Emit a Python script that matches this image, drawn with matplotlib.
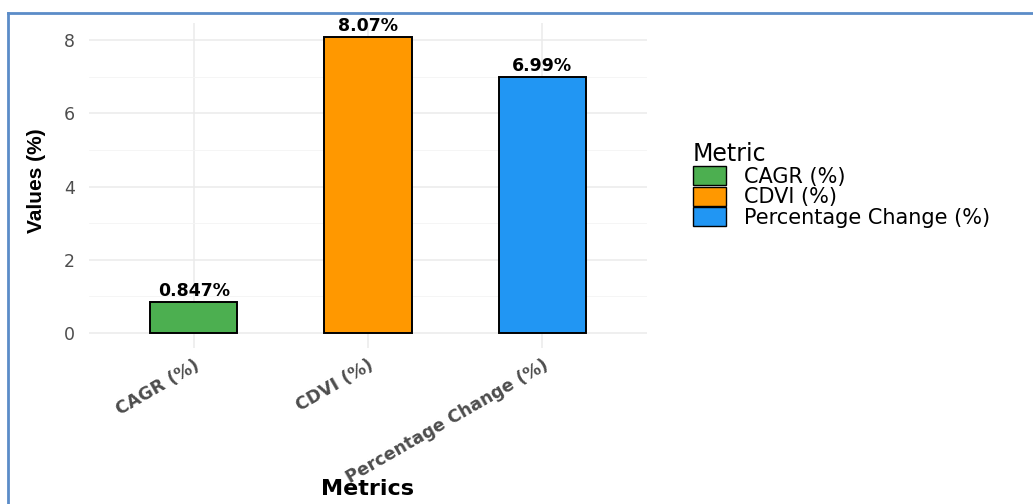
import matplotlib
matplotlib.use("Agg")
import matplotlib.pyplot as plt
import matplotlib.transforms as mtransforms
from matplotlib.lines import Line2D
from matplotlib.patches import Patch
import numpy as np

# data
metrics = ["CAGR (%)", "CDVI (%)", "Percentage Change (%)"]
values = [0.847, 8.07, 6.99]
value_labels = ["0.847%", "8.07%", "6.99%"]
colors = ["#4CAF50", "#FF9800", "#2196F3"]
y_ticks = [0, 2, 4, 6, 8]

plt.rcParams["font.family"] = ["DejaVu Sans"]

fig = plt.figure(figsize=(10.33, 5.04), dpi=100)
ax = fig.add_axes([0.0862, 0.310, 0.540, 0.645])

x = np.arange(1, len(metrics) + 1)
ax.bar(x, values, width=0.5, color=colors, edgecolor="black", linewidth=1.4, zorder=3)
for xi, v, lab in zip(x, values, value_labels):
    ax.annotate(lab, (xi, v), xytext=(0, 1.5), textcoords="offset points",
                ha="center", va="bottom", fontsize=12.5, fontweight="bold", color="black", zorder=4)

ax.set_xlim(0.4, 3.6)
ymax = max(values)
ax.set_ylim(-0.05 * ymax, ymax * 1.05)
ax.set_yticks(y_ticks)
ax.set_yticks([1, 3, 5, 7], minor=True)
ax.set_xticks(x)
ax.set_xticklabels(metrics, rotation=30, ha="right", va="top", rotation_mode="anchor",
                   fontsize=12.5, fontweight="bold", color="#4d4d4d")
shift = mtransforms.ScaledTranslation(15 / 100, 0, fig.dpi_scale_trans)
for t in ax.get_xticklabels():
    t.set_transform(t.get_transform() + shift)
ax.tick_params(axis="y", labelsize=12.5, labelcolor="#4d4d4d", length=0, pad=10)
ax.tick_params(axis="y", which="minor", length=0)
ax.tick_params(axis="x", length=0, pad=6)

ax.grid(True, which="major", color="#ebebeb", linewidth=1.1, zorder=0)
ax.grid(True, which="minor", axis="y", color="#f4f4f4", linewidth=0.6, zorder=0)
for s in ax.spines.values():
    s.set_visible(False)

ax.set_xlabel("Metrics", fontsize=16, fontweight="bold", color="black")
ax.xaxis.set_label_coords(0.5, -0.405)
ax.set_ylabel("Values (%)", fontsize=15, fontweight="bold", color="black",
              family=["Liberation Sans", "DejaVu Sans"])
ax.yaxis.set_label_coords(-0.077, 0.515)

handles = [Patch(facecolor=c, edgecolor="black", linewidth=1.0) for c in colors]
leg = fig.legend(handles, metrics, title="Metric", loc="upper left",
                 bbox_to_anchor=(0.6709, 0.718), frameon=False, fontsize=15,
                 title_fontsize=17, handlelength=1.58, handleheight=1.02,
                 handletextpad=0.85, labelspacing=0.0, borderpad=0.0,
                 borderaxespad=0.0, alignment="left")

# blue frame around the figure (top and left edges)
fig.add_artist(Line2D([0.0080, 1.0], [0.974, 0.974], color="#5b8cc8", linewidth=2.0))
fig.add_artist(Line2D([0.0080, 0.0080], [0.0, 0.974], color="#5b8cc8", linewidth=2.0))

fig.savefig("out.png", dpi=100, facecolor="white")
